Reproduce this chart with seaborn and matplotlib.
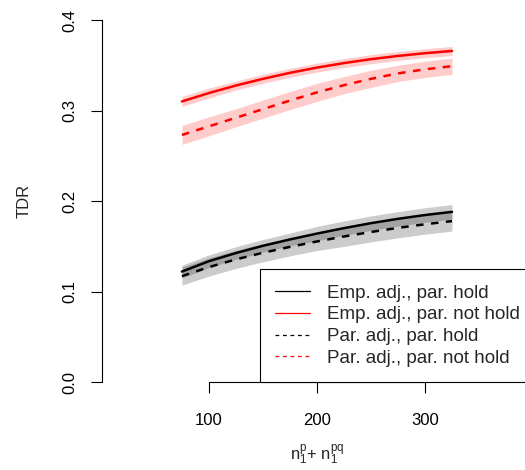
import numpy as np
import pandas as pd
import matplotlib
matplotlib.use("Agg")
import matplotlib.pyplot as plt
import seaborn as sns
from matplotlib.lines import Line2D

# x grid: n1^p + n1^pq
n_total = [75, 100, 125, 150, 175, 200, 225, 250, 275, 300, 325]

# mean TDR per setting
emp_hold = [0.122, 0.1335, 0.1425, 0.1505, 0.1575, 0.164, 0.170, 0.1755, 0.1803, 0.1845, 0.188]
emp_nothold = [0.310, 0.3193, 0.3276, 0.335, 0.3416, 0.3474, 0.3524, 0.3567, 0.3603, 0.3633, 0.3658]
par_hold = [0.117, 0.127, 0.1355, 0.1428, 0.1493, 0.1553, 0.1608, 0.1658, 0.1703, 0.1743, 0.1778]
par_nothold = [0.273, 0.2825, 0.292, 0.3015, 0.311, 0.320, 0.328, 0.335, 0.341, 0.3455, 0.349]

# half width of the shaded bands
emp_hold_hw = [0.007, 0.007, 0.007, 0.007, 0.007, 0.008, 0.008, 0.008, 0.008, 0.008, 0.008]
emp_nothold_hw = [0.0055, 0.0055, 0.005, 0.005, 0.005, 0.005, 0.005, 0.005, 0.005, 0.005, 0.005]
par_hold_hw = [0.010, 0.010, 0.010, 0.010, 0.010, 0.010, 0.011, 0.011, 0.011, 0.011, 0.011]
par_nothold_hw = [0.0105, 0.0105, 0.010, 0.010, 0.010, 0.010, 0.0095, 0.0095, 0.009, 0.009, 0.009]

labels = ["Emp. adj., par. hold", "Emp. adj., par. not hold",
          "Par. adj., par. hold", "Par. adj., par. not hold"]
means = [emp_hold, emp_nothold, par_hold, par_nothold]
widths = [emp_hold_hw, emp_nothold_hw, par_hold_hw, par_nothold_hw]
colors = ["black", "red", "black", "red"]

df = pd.DataFrame({
    "n": n_total * 4,
    "tdr": sum(means, []),
    "setting": [lab for lab in labels for _ in n_total],
})

sns.set_style("ticks")
plt.rcParams["font.family"] = ["Liberation Sans", "DejaVu Sans"]
plt.rcParams["mathtext.fontset"] = "custom"
plt.rcParams["mathtext.rm"] = "Liberation Sans"
plt.rcParams["mathtext.it"] = "Liberation Sans"

fig = plt.figure(figsize=(5.25, 4.7), dpi=100)
ax = fig.add_axes([102 / 525, 88 / 470, 431 / 525, 362 / 470])

# confidence bands
for m, hw, c in zip(means, widths, colors):
    lo = np.array(m) - np.array(hw)
    hi = np.array(m) + np.array(hw)
    ax.fill_between(n_total, lo, hi, color=c, alpha=0.2, lw=0)

sns.lineplot(data=df, x="n", y="tdr", hue="setting", style="setting",
             palette=dict(zip(labels, colors)),
             dashes=dict(zip(labels, ["", "", (3, 3), (3, 3)])),
             linewidth=1.8, legend=False, ax=ax)

ax.set_xlim(1, 400)
ax.set_ylim(0, 0.4)
ax.set_xticks([100, 200, 300])
ax.set_yticks([0.0, 0.1, 0.2, 0.3, 0.4])
ax.set_yticklabels(["0.0", "0.1", "0.2", "0.3", "0.4"], rotation=90, va="center")
ax.tick_params(direction="out", length=8, width=0.8, colors="black", labelsize=12)
ax.tick_params(axis="y", pad=10)
ax.tick_params(axis="x", pad=14)
sns.despine(ax=ax)
ax.spines["left"].set_bounds(0, 0.4)
ax.spines["bottom"].set_bounds(100, 300)
for s in ["left", "bottom"]:
    ax.spines[s].set_linewidth(0.8)
    ax.spines[s].set_color("black")

ax.set_xlabel(r"$\mathregular{n_1^p}$+ $\mathregular{n_1^{pq}}$", fontsize=12, labelpad=11)
ax.set_ylabel("TDR", fontsize=12, labelpad=22)

handles = [Line2D([], [], color=c, lw=0.9, ls=ls)
           for c, ls in zip(colors, ["-", "-", (0, (3, 3)), (0, (3, 3))])]
leg = ax.legend(handles, labels, loc="lower left",
                bbox_to_anchor=(260 / 525, 88 / 470), bbox_transform=fig.transFigure,
                borderaxespad=0, fancybox=False, framealpha=1, edgecolor="black",
                fontsize=13.5, handlelength=1.87, handletextpad=0.9, borderpad=0.8,
                labelspacing=0.25)
leg.get_frame().set_linewidth(0.8)

fig.savefig("out.png", dpi=100)
